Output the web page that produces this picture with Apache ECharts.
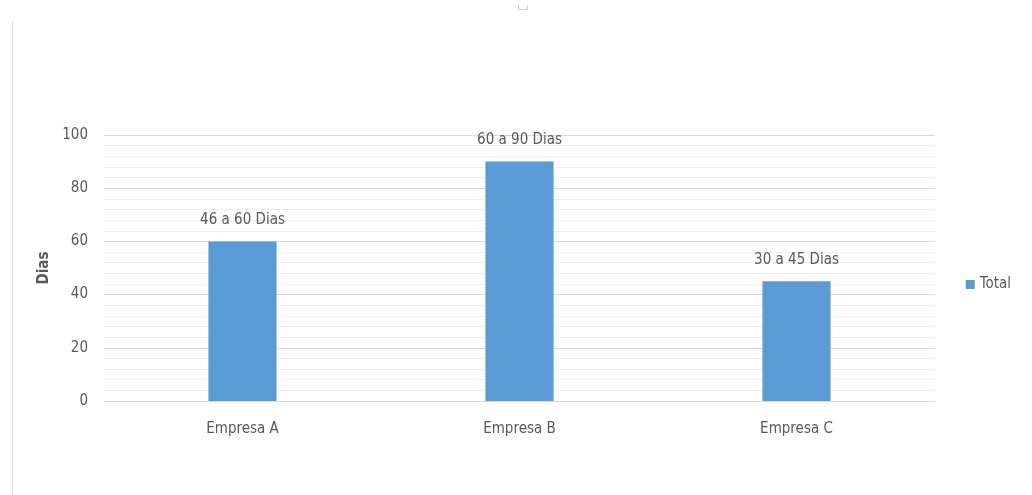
<!DOCTYPE html>
<html>
<head>
<meta charset="utf-8">
<script src="https://cdn.jsdelivr.net/npm/echarts@6/dist/echarts.min.js"></script>
<style>
html,body{margin:0;padding:0;background:#fff;}
#c{width:1032px;height:495px;}
</style>
</head>
<body>
<div id="c"></div>
<script>
const categories = ["Empresa A", "Empresa B", "Empresa C"];
const totalValues = [60, 90, 45];
const rangeLabels = ["46 a 60 Dias", "60 a 90 Dias", "30 a 45 Dias"];
const seriesName = "Total";
const yAxisName = "Dias";

const FONT = "'Liberation Sans Narrow', 'DejaVu Sans Condensed', sans-serif";
const TXT = "#595959";

const chart = echarts.init(document.getElementById('c'));
chart.setOption({
  animation: false,
  backgroundColor: '#fff',
  textStyle: { fontFamily: FONT },
  graphic: [
    { type: 'line', shape: { x1: 12.5, y1: 22, x2: 12.5, y2: 495 }, style: { stroke: '#d9d9d9', lineWidth: 1 } },
    { type: 'polyline', shape: { points: [[518.5, 5], [518.5, 9.5], [527.5, 9.5], [527.5, 5]] }, style: { fill: 'none', stroke: '#cfcfcf', lineWidth: 1 } }
  ],
  legend: {
    show: true,
    data: [seriesName],
    right: 16,
    top: 272,
    orient: 'vertical',
    icon: 'rect',
    itemWidth: 9,
    itemHeight: 9,
    itemGap: 4,
    textStyle: { color: TXT, fontSize: 15, fontFamily: FONT }
  },
  grid: { left: 104, right: 97, top: 135, bottom: 94, containLabel: false },
  xAxis: {
    type: 'category',
    data: categories,
    axisLine: { show: true, lineStyle: { color: '#d9d9d9', width: 1 } },
    axisTick: { show: false },
    axisLabel: { color: TXT, fontSize: 15, margin: 21, fontFamily: FONT },
    splitLine: { show: false }
  },
  yAxis: {
    type: 'value',
    min: 0,
    max: 100,
    interval: 20,
    name: yAxisName,
    nameLocation: 'middle',
    nameGap: 48,
    nameRotate: 90,
    nameTextStyle: { color: TXT, fontSize: 15, fontWeight: 'bold', fontFamily: FONT },
    axisLine: { show: false },
    axisTick: { show: false },
    axisLabel: { color: TXT, fontSize: 15, margin: 16, fontFamily: FONT },
    splitLine: { show: true, lineStyle: { color: '#d9d9d9', width: 1 } },
    minorTick: { show: false, splitNumber: 5 },
    minorSplitLine: { show: true, lineStyle: { color: '#efefef', width: 1 } }
  },
  series: [{
    name: seriesName,
    type: 'bar',
    data: totalValues,
    barWidth: '24.6%',
    itemStyle: { color: '#5B9BD5' },
    label: {
      show: true,
      position: 'top',
      distance: 14,
      color: TXT,
      fontSize: 15,
      fontFamily: FONT,
      formatter: p => rangeLabels[p.dataIndex]
    }
  }]
});
</script>
</body>
</html>
